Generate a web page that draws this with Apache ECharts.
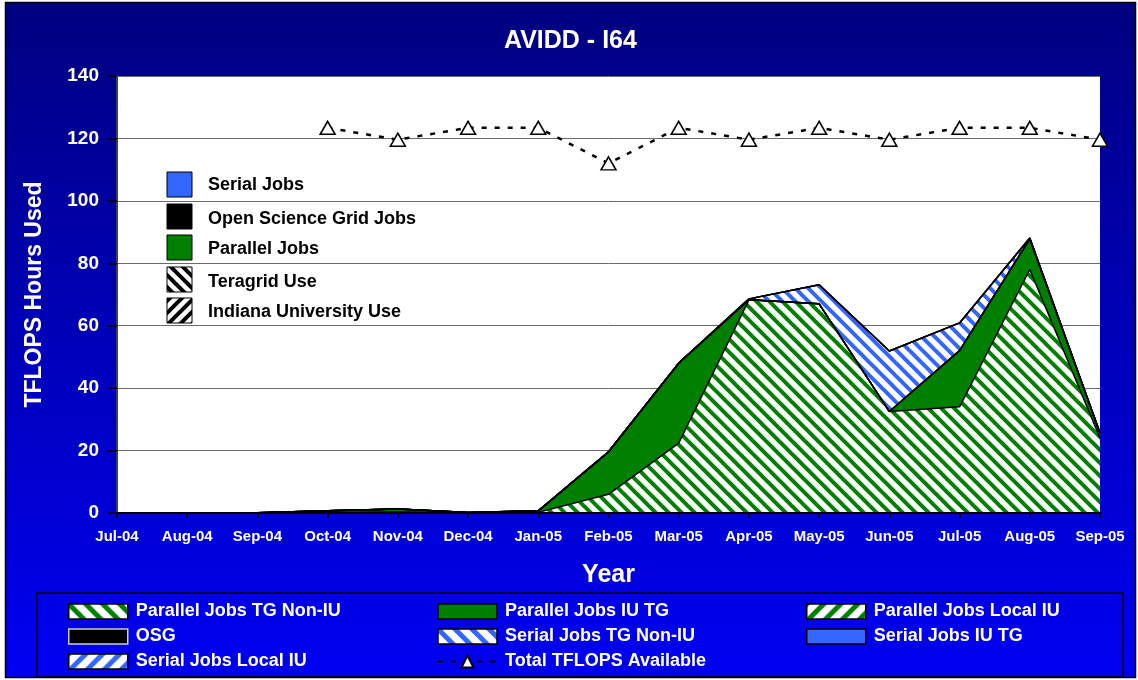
<!DOCTYPE html>
<html><head><meta charset="utf-8">
<script src="https://cdn.jsdelivr.net/npm/echarts@6/dist/echarts.min.js"></script>
<style>html,body{margin:0;padding:0;background:#fff}#c{width:1138px;height:680px}</style>
</head><body><div id="c"></div>
<script>
const categories = ['Jul-04','Aug-04','Sep-04','Oct-04','Nov-04','Dec-04','Jan-05','Feb-05','Mar-05','Apr-05','May-05','Jun-05','Jul-05','Aug-05','Sep-05'];
const parallelTGNonIU   = [0, 0, 0.1, 0.2, 0.3, 0.1, 0.2, 6, 22.4, 68.3, 67, 32.5, 34, 78, 24];
const parallelIUTG      = [0, 0, 0, 0.5, 1.0, 0.1, 0.5, 13.6, 25.6, 0, 0, 0, 18, 9.8, 1.6];
const parallelLocalIU   = [0, 0, 0, 0, 0, 0, 0, 0, 0, 0, 0, 0, 0, 0, 0];
const osg               = [0, 0, 0, 0, 0, 0, 0, 0, 0, 0, 0, 0, 0, 0, 0];
const serialTGNonIU     = [0, 0, 0, 0, 0, 0, 0, 0, 0, 0.3, 6.1, 19.4, 8.9, 0.3, 0];
const serialIUTG        = [0, 0, 0, 0, 0, 0, 0, 0, 0, 0, 0, 0, 0, 0, 0];
const serialLocalIU     = [0, 0, 0, 0, 0, 0, 0, 0, 0, 0, 0, 0, 0, 0, 0];
const totalAvailable    = [null, null, null, 123.4, 119.6, 123.4, 123.4, 112, 123.4, 119.6, 123.4, 119.6, 123.4, 123.4, 119.6];
const yTicks = {min: 0, max: 140, interval: 20};

const GREEN = '#008000', BLUE = '#3366FF';
function hatch(color, dir, size, lw) {
  const c = document.createElement('canvas'); c.width = size; c.height = size;
  const g = c.getContext('2d');
  g.fillStyle = '#fff'; g.fillRect(0, 0, size, size);
  g.strokeStyle = color; g.lineWidth = lw;
  for (let k = -2; k <= 2; k++) {
    g.beginPath();
    if (dir === 'back') { g.moveTo(k * size - size, -size); g.lineTo(k * size + 2 * size, 2 * size); }
    else { g.moveTo(k * size - size, 2 * size); g.lineTo(k * size + 2 * size, -size); }
    g.stroke();
  }
  return {image: c, repeat: 'repeat'};
}
const gBack = hatch(GREEN, 'back', 13, 4);
const gFwd = hatch(GREEN, 'fwd', 13, 4);
const bBack = hatch(BLUE, 'back', 13, 4);
const bFwd = hatch(BLUE, 'fwd', 13, 4);
const gBackL = hatch(GREEN, 'back', 17, 5);
const gFwdL = hatch(GREEN, 'fwd', 17, 5);
const bBackL = hatch(BLUE, 'back', 17, 5);
const bFwdL = hatch(BLUE, 'fwd', 17, 5);
const kBack = hatch('#000', 'back', 12, 4);
const kFwd = hatch('#000', 'fwd', 12, 4);

function areaSeries(name, data, fill) {
  return {
    name, type: 'line', stack: 'total', data, symbol: 'none', showSymbol: false,
    lineStyle: {color: '#000', width: 1.5},
    areaStyle: {color: fill, opacity: 1},
    itemStyle: {color: fill},
    emphasis: {disabled: true}, z: 2, animation: false
  };
}

const legendText = {color: '#fff', fontSize: 18, fontWeight: 'bold', fontFamily: 'Liberation Sans, Arial, sans-serif', lineHeight: 25, padding: [0, 0, 0, 3]};
function legendBlock(left, data) {
  return {
    left, top: 599, orient: 'vertical', padding: 0, itemGap: 0, itemWidth: 59, itemHeight: 15,
    selectedMode: false, textStyle: legendText, data
  };
}
function lItem(name, color, border) {
  return {name, icon: 'rect', itemStyle: {color, borderColor: border || '#000', borderWidth: 1.5}};
}

const innerLegend = [
  ['Serial Jobs', BLUE, 172, 185],
  ['Open Science Grid Jobs', '#000', 204, 219],
  ['Parallel Jobs', GREEN, 235, 249],
  ['Teragrid Use', kBack, 267, 282],
  ['Indiana University Use', kFwd, 298, 312]
];
const graphics = [
  {type: 'rect', z: -10, shape: {x: 5.5, y: 2.5, width: 1130, height: 675},
   style: {fill: new echarts.graphic.LinearGradient(0, 0, 0, 1, [{offset: 0, color: '#000080'}, {offset: 1, color: '#0000F2'}]), stroke: '#000', lineWidth: 1.5}},
  {type: 'rect', z: 5, shape: {x: 37, y: 593, width: 1086, height: 84}, style: {fill: 'none', stroke: '#000010', lineWidth: 1.5}}
];
innerLegend.forEach(([t, fill, y, ty]) => {
  graphics.push({type: 'rect', z: 100, shape: {x: 167, y: y, width: 25, height: 25}, style: {fill, stroke: '#000', lineWidth: 1}});
  graphics.push({type: 'text', z: 100, x: 208, y: ty, style: {text: t, fill: '#000', font: 'bold 18px "Liberation Sans", Arial, sans-serif', verticalAlign: 'middle'}});
});

const chart = echarts.init(document.getElementById('c'));
chart.setOption({
  animation: false,
  backgroundColor: '#fff',
  title: {text: 'AVIDD - I64', left: 504, top: 29, padding: 0,
    textStyle: {color: '#fff', fontSize: 25, fontWeight: 'bold', fontFamily: 'Liberation Sans, Arial, sans-serif'}},
  grid: {left: 117, right: 38, top: 76, bottom: 167, show: true, backgroundColor: '#fff', borderWidth: 0},
  xAxis: {
    type: 'category', data: categories, boundaryGap: false,
    name: 'Year', nameLocation: 'middle', nameGap: 50,
    nameTextStyle: {color: '#fff', fontSize: 25, fontWeight: 'bold', fontFamily: 'Liberation Sans, Arial, sans-serif'},
    axisLine: {lineStyle: {color: '#000', width: 2}},
    axisTick: {show: true, length: 5, interval: 0, lineStyle: {color: '#000', width: 1.5}},
    axisLabel: {color: '#fff', fontSize: 15, fontWeight: 'bold', margin: 16, interval: 0, fontFamily: 'Liberation Sans, Arial, sans-serif'},
    z: 10
  },
  yAxis: {
    type: 'value', min: yTicks.min, max: yTicks.max, interval: yTicks.interval,
    name: 'TFLOPS Hours Used', nameLocation: 'middle', nameGap: 71,
    nameTextStyle: {color: '#fff', fontSize: 23, fontWeight: 'bold', fontFamily: 'Liberation Sans, Arial, sans-serif'},
    axisLine: {show: true, lineStyle: {color: '#404048', width: 2}},
    axisTick: {show: true, length: 9, lineStyle: {color: '#000', width: 1.5}},
    axisLabel: {color: '#fff', fontSize: 19, fontWeight: 'bold', margin: 18, fontFamily: 'Liberation Sans, Arial, sans-serif'},
    splitLine: {lineStyle: {color: '#6a6a6a', width: 1}}
  },
  legend: [
    legendBlock(68, [lItem('Parallel Jobs TG Non-IU', gBackL), lItem('OSG', '#000', '#ccc'), lItem('Serial Jobs Local IU', bFwdL)]),
    legendBlock(437, [lItem('Parallel Jobs IU TG', GREEN), lItem('Serial Jobs TG Non-IU', bBackL), {name: 'Total TFLOPS Available'}]),
    legendBlock(806, [lItem('Parallel Jobs Local IU', gFwdL), lItem('Serial Jobs IU TG', BLUE)])
  ],
  graphic: graphics,
  series: [
    areaSeries('Parallel Jobs TG Non-IU', parallelTGNonIU, gBack),
    areaSeries('Parallel Jobs IU TG', parallelIUTG, GREEN),
    areaSeries('Parallel Jobs Local IU', parallelLocalIU, gFwd),
    areaSeries('OSG', osg, '#000'),
    areaSeries('Serial Jobs TG Non-IU', serialTGNonIU, bBack),
    areaSeries('Serial Jobs IU TG', serialIUTG, BLUE),
    areaSeries('Serial Jobs Local IU', serialLocalIU, bFwd),
    {
      name: 'Total TFLOPS Available', type: 'line', data: totalAvailable,
      symbol: 'triangle', symbolSize: [15, 13], showSymbol: true,
      itemStyle: {color: '#fff', borderColor: '#000', borderWidth: 1.5},
      lineStyle: {color: '#000', width: 2.5, type: [5, 8]},
      emphasis: {disabled: true}, z: 5
    }
  ]
});
</script></body></html>
